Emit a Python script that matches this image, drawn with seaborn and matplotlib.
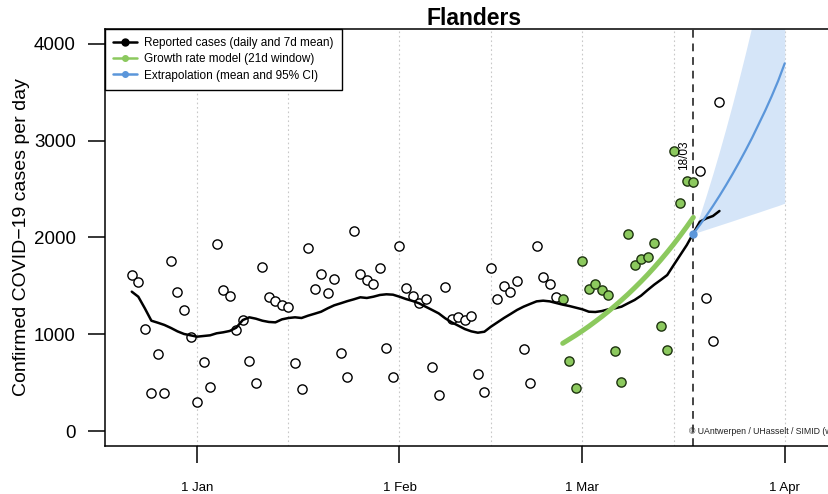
import numpy as np
import pandas as pd
import seaborn as sns
import matplotlib
matplotlib.use("Agg")
import matplotlib.pyplot as plt
from matplotlib.lines import Line2D

# daily reported cases, 22 Dec 2020 -> 22 Mar 2021
cases = [1609, 1537, 1051, 396, 793, 396, 1760, 1434, 1247, 975,
         303, 710, 451, 1930, 1461, 1395, 1047, 1147, 724, 499, 1692, 1388, 1340, 1299, 1278, 700,
         434, 1895, 1471, 1626, 1426, 1571, 803, 561, 2070, 1626, 1557, 1516, 1685, 854, 558,
         1912, 1481, 1392, 1323, 1361, 658, 375, 1492, 1154, 1178, 1150, 1192, 592, 406, 1688,
         1364, 1495, 1437, 1554, 851, 496, 1916, 1592, 1516, 1385, 1364, 725, 446,
         1760, 1471, 1516, 1454, 1406, 824, 503, 2033, 1719, 1781, 1798, 1943, 1082, 837, 2897,
         2353, 2584, 2570, 2690, 1378, 927, 3400]
# 7 day mean
mean7 = [1440, 1388, 1268, 1140, 1119, 1096, 1065, 1030, 1003, 989,
         975, 982, 989, 1010, 1020, 1034, 1068, 1147, 1175, 1161, 1140, 1127, 1123, 1154, 1168, 1175,
         1168, 1192, 1212, 1233, 1268, 1299, 1320, 1342, 1361, 1382, 1375, 1388, 1406, 1413, 1409,
         1388, 1364, 1344, 1320, 1285, 1251, 1216, 1165, 1123, 1089, 1054, 1030, 1016, 1026, 1078,
         1123, 1168, 1209, 1251, 1285, 1313, 1340, 1347, 1340, 1323, 1306, 1292, 1275,
         1258, 1233, 1230, 1240, 1258, 1268, 1285, 1320, 1354, 1399, 1457, 1512, 1561, 1612, 1716,
         1819, 1922, 2043, 2163, 2198, 2222, 2274]
# growth rate model, 26 Feb -> 18 Mar (21d window)
growth = [906, 948, 990, 1035, 1082, 1132, 1183, 1237, 1294, 1353, 1414,
          1479, 1546, 1616, 1690, 1767, 1848, 1932, 2020, 2112, 2208]
# extrapolation, 18 Mar -> 1 Apr
extrap = [2040, 2130, 2225, 2325, 2430, 2540, 2655, 2775, 2900, 3030, 3170, 3310, 3460, 3620, 3800]
ci_low = [2040, 2062, 2084, 2106, 2128, 2150, 2172, 2195, 2218, 2240, 2262, 2285, 2308, 2330, 2355]
ci_high = [2040, 2230, 2440, 2660, 2890, 3130, 3380, 3640, 3910, 4190, 4480, 4780, 5090, 5410, 5750]

days = pd.date_range("2020-12-22", periods=len(cases), freq="D")
df = pd.DataFrame({"date": days, "cases": cases, "mean7": mean7})
win_start, cut = pd.Timestamp("2021-02-26"), pd.Timestamp("2021-03-18")
in_win = (df.date >= win_start) & (df.date <= cut)
gdf = pd.DataFrame({"date": pd.date_range(win_start, periods=len(growth)), "val": growth})
edf = pd.DataFrame({"date": pd.date_range(cut, periods=len(extrap)), "val": extrap,
                    "lo": ci_low, "hi": ci_high})

green = "#8CC95E"
blue = "#5B96DA"

sns.set_style("white")
plt.rcParams["font.family"] = ["Liberation Sans", "DejaVu Sans"]
for k in ["text.color", "axes.labelcolor", "xtick.color", "ytick.color"]:
    plt.rcParams[k] = "black"

fig = plt.figure(figsize=(8.29, 4.94), dpi=100)
ax = fig.add_axes([105 / 829, 48 / 494, 738.5 / 829, 417 / 494])

# grid: 1st and 15th of each month
for m in ["2021-01", "2021-02", "2021-03", "2021-04"]:
    for d in ["-01", "-15"]:
        ax.axvline(pd.Timestamp(m + d), color="#c8c8c8", lw=0.8, ls=(0, (1.5, 2.5)), zorder=0)

ax.fill_between(edf.date, edf.lo, edf.hi, color="#D5E5F8", lw=0, zorder=1)
ax.axvline(cut, color="#444444", lw=1.4, ls=(0, (4, 3)), zorder=2)

sns.scatterplot(data=df[~in_win], x="date", y="cases", ax=ax, s=44, color="white",
                edgecolor="black", linewidth=1.0, zorder=3)
sns.scatterplot(data=df[in_win], x="date", y="cases", ax=ax, s=44, color=green,
                edgecolor="#1e3310", linewidth=1.0, zorder=3)
sns.lineplot(data=df, x="date", y="mean7", ax=ax, color="black", lw=1.8, zorder=4)
sns.lineplot(data=gdf, x="date", y="val", ax=ax, color=green, lw=3.6, zorder=5)
sns.lineplot(data=edf, x="date", y="val", ax=ax, color=blue, lw=1.6, zorder=5)
ax.plot(edf.date.iloc[:1], edf.val.iloc[:1], "o", color=blue, ms=5, zorder=6)

ax.text(cut - pd.Timedelta(days=0.5), 3000, "18/03", rotation=90, ha="right", va="top",
        fontsize=8.5, zorder=6)
ax.text(cut - pd.Timedelta(days=0.6), 0, "\u00a9 UAntwerpen / UHasselt / SIMID (www.simid.be)",
        ha="left", va="center", fontsize=6.3, color="#222222", zorder=6)

ax.set_xlim(pd.Timestamp("2021-01-01") - pd.Timedelta(days=14.1),
            pd.Timestamp("2021-04-01") + pd.Timedelta(days=9))
ax.set_ylim(-155, 4155)
ax.set_xticks([pd.Timestamp(s) for s in ["2021-01-01", "2021-02-01", "2021-03-01", "2021-04-01"]])
ax.set_xticklabels(["1 Jan", "1 Feb", "1 Mar", "1 Apr"])
ax.set_yticks([0, 1000, 2000, 3000, 4000])
ax.tick_params(axis="y", direction="out", length=12, width=1.1, pad=9, labelsize=13.5, left=True)
ax.tick_params(axis="x", direction="out", length=12, width=1.1, pad=14, labelsize=9.5, bottom=True)
ax.set_xlabel("")
ax.set_ylabel("Confirmed COVID\u221219 cases per day", fontsize=14, labelpad=3)
ax.set_title("Flanders", fontsize=16.5, fontweight="bold", pad=3)
for s in ax.spines.values():
    s.set_color("black")
    s.set_linewidth(1.1)

handles = [Line2D([], [], color="black", lw=1.8, marker="o", ms=5),
           Line2D([], [], color=green, lw=1.8, marker="o", ms=4),
           Line2D([], [], color=blue, lw=1.8, marker="o", ms=4)]
labels = ["Reported cases (daily and 7d mean)", "Growth rate model (21d window)",
          "Extrapolation (mean and 95% CI)"]
leg = ax.legend(handles, labels, loc="upper left", bbox_to_anchor=(0, 1), borderaxespad=0,
                fontsize=8.5, frameon=True, fancybox=False, edgecolor="black", framealpha=1,
                handlelength=2.0, handletextpad=0.6, labelspacing=0.35, borderpad=0.7)
leg.get_frame().set_linewidth(1.0)

fig.savefig("out.png", dpi=100)
